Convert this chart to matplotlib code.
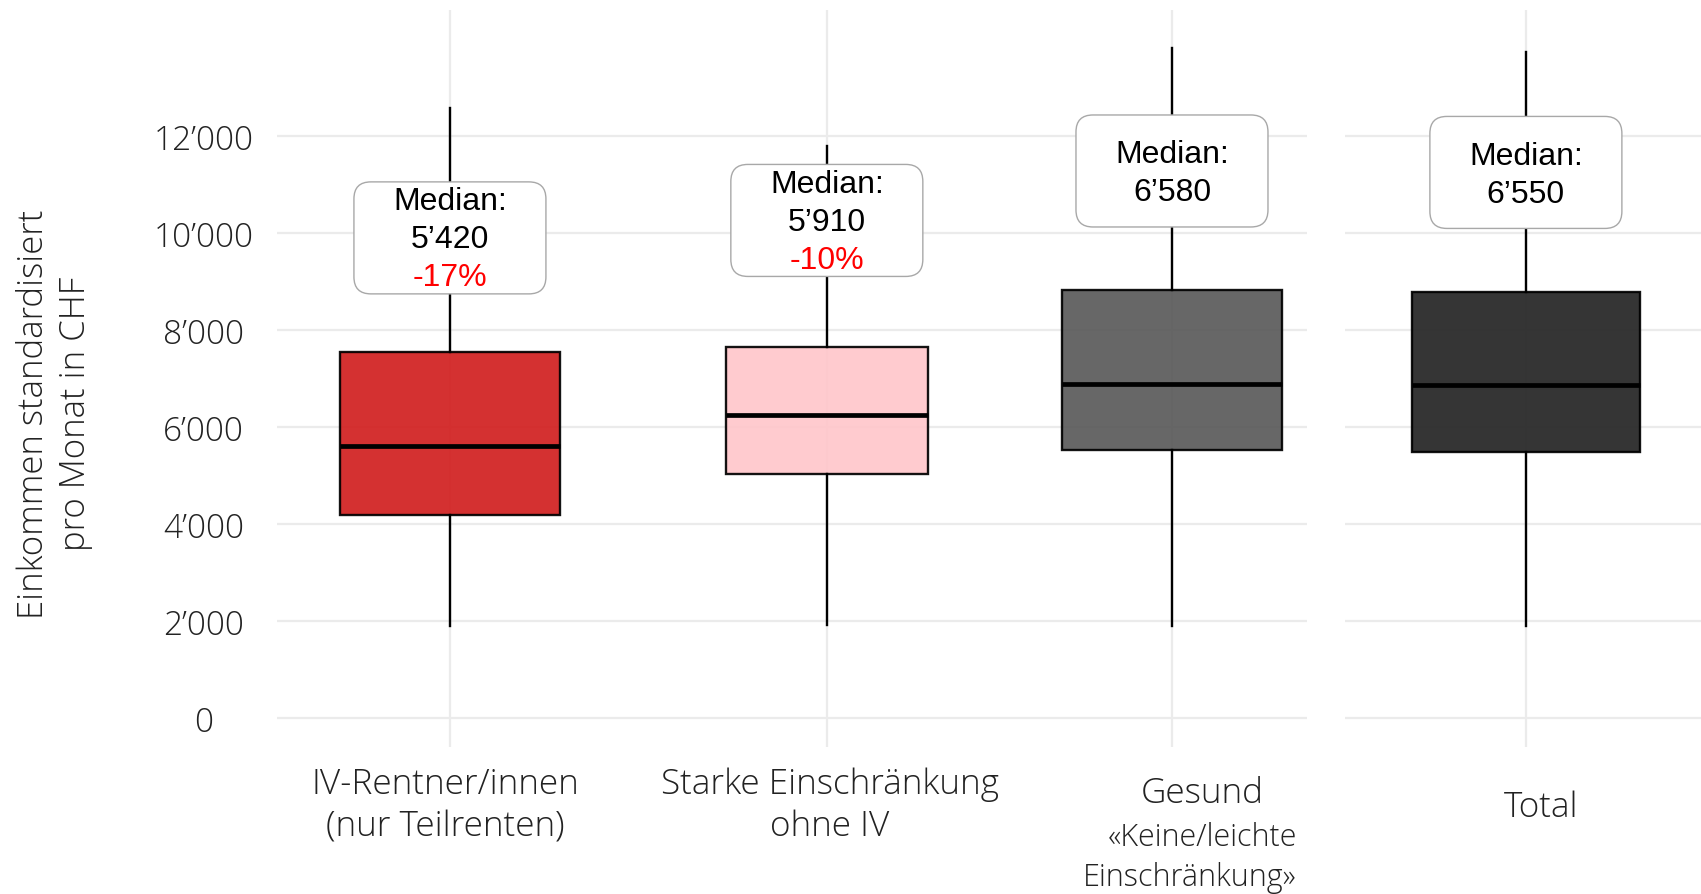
import matplotlib.pyplot as plt
from matplotlib.patches import FancyBboxPatch
from matplotlib.transforms import ScaledTranslation

# data
categories = ["IV-Rentner/innen\n(nur Teilrenten)", "Starke Einschränkung\nohne IV", "Gesund", "Total"]
whislo = [1900, 1920, 1900, 1900]
q1 = [4180, 5030, 5520, 5480]
med = [5610, 6240, 6880, 6860]
q3 = [7550, 7640, 8830, 8780]
whishi = [12580, 11800, 13810, 13740]
median_text = ["5’420", "5’910", "6’580", "6’550"]
diff_text = ["-17%", "-10%", "", ""]
colors = ["#D11F1F", "#FFC7CB", "#5A5A5A", "#242424"]
yticks = [0, 2000, 4000, 6000, 8000, 10000, 12000]

# layout
pos = [1, 2.044, 3, 1]
widths = [0.61, 0.56, 0.61, 0.63]
label_y = [9900, 10260, 11280, 11250]

font = "Open Sans"
tc = "#222222"
W, H = 1701, 895
fig = plt.figure(figsize=(W / 100, H / 100), dpi=100)
ax1 = fig.add_axes([277 / W, 1 - 748 / H, 1030 / W, 737 / H])
ax2 = fig.add_axes([1345 / W, 1 - 748 / H, 356 / W, 737 / H])

grid = "#EBEBEB"
for ax, idx in [(ax1, [0, 1, 2]), (ax2, [3])]:
    stats = [dict(whislo=whislo[i], q1=q1[i], med=med[i], q3=q3[i], whishi=whishi[i]) for i in idx]
    bp = ax.bxp(stats, positions=[pos[i] for i in idx], widths=[widths[i] for i in idx],
                patch_artist=True, showcaps=False, showfliers=False,
                boxprops=dict(edgecolor="black", linewidth=1.7),
                whiskerprops=dict(color="black", linewidth=1.7),
                medianprops=dict(color="black", linewidth=3.4),
                manage_ticks=False, zorder=3)
    for patch, i in zip(bp["boxes"], idx):
        patch.set_facecolor(colors[i])
        patch.set_alpha(0.92)
        patch.set_edgecolor("black")
    ax.set_ylim(-600, 14600)
    for s in ax.spines.values():
        s.set_visible(False)
    ax.set_yticks(yticks)
    ax.set_xticks([pos[i] for i in idx])
    ax.set_xticklabels([])
    ax.tick_params(length=0)
    ax.grid(True, color=grid, linewidth=1.6, zorder=0)
    ax.set_axisbelow(True)

    for i in idx:
        tr = fig.dpi_scale_trans + ScaledTranslation(pos[i], label_y[i], ax.transData)
        box = FancyBboxPatch((-0.96, -0.56), 1.92, 1.12, boxstyle="round,pad=0,rounding_size=0.17",
                             transform=tr, facecolor="white", edgecolor="#A8A8A8", linewidth=1.0, zorder=5)
        ax.add_patch(box)
        if diff_text[i]:
            lines = [("Median:", "black", 0.365), (median_text[i], "black", -0.016), (diff_text[i], "red", -0.395)]
        else:
            lines = [("Median:", "black", 0.165), (median_text[i], "black", -0.215)]
        for txt, col, dy in lines:
            ax.text(0, dy, txt, transform=tr, ha="center", va="center", fontsize=23,
                    family="Liberation Sans", color=col, zorder=6)

ax1.set_xlim(0.521, 3.374)
ax2.set_xlim(0.499, 1.485)
ax1.set_yticklabels([f"{v:,}".replace(",", "’") for v in yticks], family=font, fontsize=24,
                    color=tc, ha="center", fontweight="light")
ax1.tick_params(axis="y", pad=53)
ax2.set_yticklabels([])

# category labels
kw = dict(ha="center", va="center", family=font, color=tc, fontweight="light")
fig.text(445 / W, 1 - 806 / H, categories[0], fontsize=25.3, linespacing=1.3, **kw)
fig.text(830 / W, 1 - 806 / H, categories[1], fontsize=25.3, linespacing=1.3, **kw)
fig.text(1202 / W, 1 - 794 / H, categories[2], fontsize=25.3, **kw)
fig.text(1202 / W, 1 - 838 / H, "«Keine/leichte", fontsize=22, **kw)
fig.text(1190 / W, 1 - 878 / H, "Einschränkung»", fontsize=22, **kw)
fig.text(1541 / W, 1 - 808 / H, categories[3], fontsize=25.3, **kw)

fig.text(55 / W, 1 - 414 / H, "Einkommen standardisiert\npro Monat in CHF", rotation=90,
         fontsize=25, linespacing=1.3, **kw)

fig.savefig("out.png", dpi=100)
